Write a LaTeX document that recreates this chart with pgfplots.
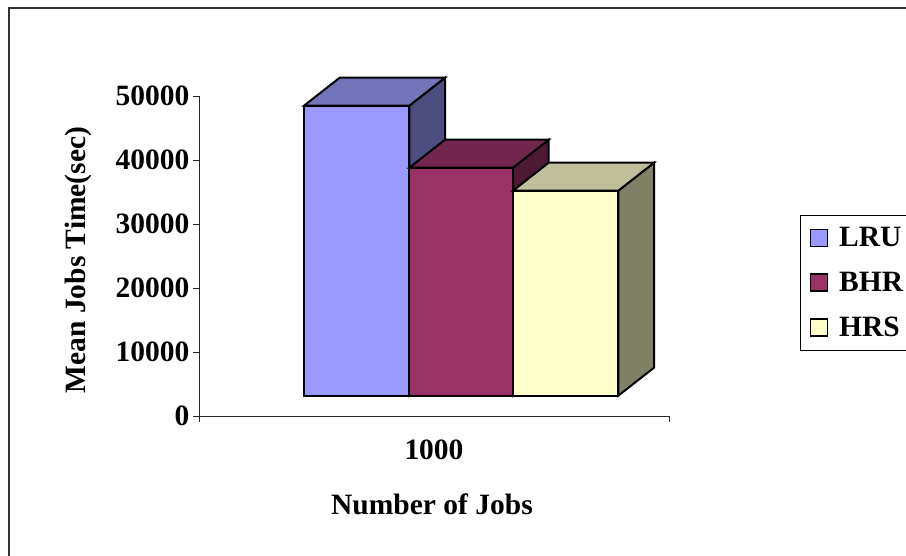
\documentclass[border=0pt]{standalone}
\usepackage{fontspec}
\setmainfont{Liberation Serif}
\usepackage{pgfplots}
\pgfplotsset{compat=1.18}
\definecolor{lruF}{RGB}{153,153,255}
\definecolor{lruT}{RGB}{116,116,187}
\definecolor{lruS}{RGB}{77,77,128}
\definecolor{bhrF}{RGB}{153,51,102}
\definecolor{bhrT}{RGB}{115,38,77}
\definecolor{bhrS}{RGB}{77,25,51}
\definecolor{hrsF}{RGB}{255,255,204}
\definecolor{hrsT}{RGB}{191,191,153}
\definecolor{hrsS}{RGB}{128,128,102}
\newcommand{\chartfont}{\bfseries\fontsize{29.5}{30}\selectfont}
% x is in picture pixels, 1px = 1pt; one px in y is 156.25 units
\pgfplotsset{
  face/.style={draw=black, line width=2pt, line join=miter, forget plot, mark=none},
  swatch/.style={legend image code/.code={
    \draw[black, line width=1.7pt, fill=#1] (0pt,-8.5pt) rectangle (17pt,8.5pt);}},
}
\begin{document}
\begin{tikzpicture}
% the page is the reference's size, the legend box runs off its right edge
\useasboundingbox (0pt,0pt) rectangle (906pt,556pt);
\begin{axis}[
  at={(199pt,140pt)}, anchor=south west,
  scale only axis, width=470pt, height=320pt,
  xmin=199, xmax=669, ymin=0, ymax=50000,
  clip=false,
  axis x line*=bottom, axis y line*=left,
  axis line style={black!85, line width=0.8pt},
  tick style={black!85, line width=0.8pt},
  tick align=outside, major tick length=6pt,
  xtick={199,669}, xticklabels={},
  extra x ticks={434}, extra x tick labels={1000},
  extra x tick style={major tick length=0pt, tick label style={yshift=-20pt}},
  ytick={0,10000,20000,30000,40000,50000},
  /pgf/number format/assume math mode=true,
  /pgf/number format/1000 sep={},
  scaled y ticks=false,
  tick label style={font=\chartfont},
  label style={font=\chartfont},
  xlabel={Number of Jobs},
  ylabel={Mean Jobs Time(sec)},
  xlabel style={at={(axis description cs:0.4957,-0.275)}, anchor=center},
  ylabel style={at={(axis description cs:-0.2574,0.4875)}, anchor=center},
  legend style={at={(axis cs:800,31406)}, anchor=north west, draw=black, line width=1pt,
    font=\chartfont, inner xsep=9pt, inner ysep=10pt, row sep=20pt,
    /tikz/column 1/.style={column sep=9pt}},
  legend cell align=left,
]
% LRU
\addplot[face, fill=lruS] coordinates {(409.3,48484) (445,52859) (445,7547) (409.3,3172)} --cycle;
\addplot[face, fill=lruT] coordinates {(304,48484) (339.7,52859) (445,52859) (409.3,48484)} --cycle;
\addplot[face, fill=lruF] coordinates {(304,3172) (304,48484) (409.3,48484) (409.3,3172)} --cycle;
% BHR
\addplot[face, fill=bhrS] coordinates {(513,38797) (548.7,43172) (548.7,7547) (513,3172)} --cycle;
\addplot[face, fill=bhrT] coordinates {(409.3,38797) (445,43172) (548.7,43172) (513,38797)} --cycle;
\addplot[face, fill=bhrF] coordinates {(409.3,3172) (409.3,38797) (513,38797) (513,3172)} --cycle;
% HRS
\addplot[face, fill=hrsS] coordinates {(618.3,35203) (654,39578) (654,7547) (618.3,3172)} --cycle;
\addplot[face, fill=hrsT] coordinates {(513,35203) (548.7,39578) (654,39578) (618.3,35203)} --cycle;
\addplot[face, fill=hrsF] coordinates {(513,3172) (513,35203) (618.3,35203) (618.3,3172)} --cycle;
\addlegendimage{swatch=lruF}
\addlegendentry{LRU}
\addlegendimage{swatch=bhrF}
\addlegendentry{BHR}
\addlegendimage{swatch=hrsF}
\addlegendentry{HRS}
% frame of the chart area, only its top and left edges are in the picture
\draw[black!80, line width=2pt] (axis cs:9,-21875) -- (axis cs:9,63750) -- (axis cs:906,63750);
\end{axis}
\end{tikzpicture}
\end{document}
